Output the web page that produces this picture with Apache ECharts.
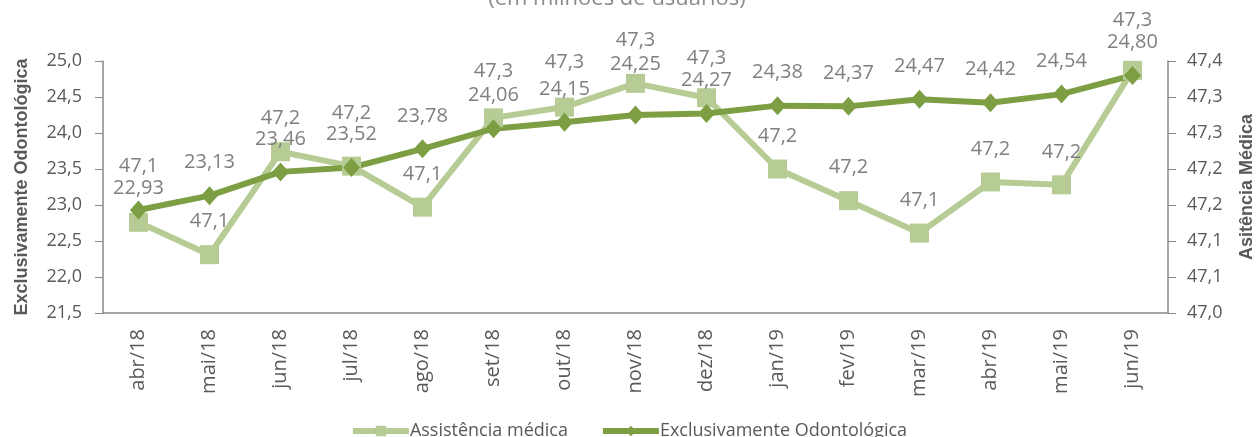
<!DOCTYPE html>
<html>
<head>
<meta charset="utf-8">
<script src="https://cdn.jsdelivr.net/npm/echarts@6/dist/echarts.min.js"></script>
<style>
  html, body { margin: 0; padding: 0; background: #fff; }
  #chart { width: 1257px; height: 437px; }
</style>
</head>
<body>
<div id="chart"></div>
<script>
// dados
var months = ['abr/18', 'mai/18', 'jun/18', 'jul/18', 'ago/18', 'set/18', 'out/18', 'nov/18',
  'dez/18', 'jan/19', 'fev/19', 'mar/19', 'abr/19', 'mai/19', 'jun/19']
// eixo direito
var assistenciaMedica = [47.126, 47.081, 47.224, 47.204, 47.147, 47.271, 47.286, 47.319,
  47.299, 47.200, 47.156, 47.111, 47.182, 47.178, 47.337]
// eixo esquerdo
var exclusOdonto = [22.93, 23.13, 23.46, 23.52, 23.78, 24.06, 24.15, 24.25,
  24.27, 24.38, 24.37, 24.47, 24.42, 24.54, 24.80]

var lightColor = '#b6cc94'
var darkColor = '#7d9e42'
var font = 'Open Sans'

// labels movidos manualmente (px acima do ponto)
var lightLift = { 0: 56, 3: 53, 5: 47, 6: 45, 7: 43, 8: 39, 14: 50 }
var darkLift = { 0: 22, 7: 51 }

function comma(v, d) {
  var p = Math.pow(10, d)
  return (Math.round(v * p + 1e-6) / p).toFixed(d).replace('.', ',')
}

function buildData(values, lifts) {
  return values.map(function (v, i) {
    return { value: v, label: { offset: [0, -(lifts[i] || 33)] } }
  })
}

var chart = echarts.init(document.getElementById('chart'))
chart.setOption({
  animation: false,
  title: {
    text: '(em milhões de usuários)',
    left: 612,
    top: -17,
    textAlign: 'center',
    textStyle: { fontFamily: font, fontSize: 22, fontWeight: 'normal', color: '#8c8c8c' }
  },
  legend: {
    top: 417,
    left: 'center',
    itemWidth: 56,
    itemHeight: 13,
    itemGap: 32,
    lineStyle: { width: 6 },
    textStyle: { fontFamily: font, fontSize: 18, color: '#595959', padding: [0, 0, 0, -4] },
    data: ['Assistência médica', 'Exclusivamente Odontológica']
  },
  grid: { left: 103, right: 89, top: 61, bottom: 124, outerBoundsMode: 'none' },
  xAxis: {
    type: 'category',
    data: months,
    boundaryGap: true,
    axisLine: { lineStyle: { color: '#898989', width: 1.5 } },
    axisTick: { length: 8, lineStyle: { color: '#898989' } },
    axisLabel: { rotate: 90, margin: 16, fontFamily: font, fontSize: 20, color: '#595959' }
  },
  yAxis: [
    {
      type: 'value',
      min: 21.5,
      max: 25,
      interval: 0.5,
      name: 'Exclusivamente Odontológica',
      nameLocation: 'middle',
      nameRotate: 90,
      nameGap: 72,
      nameTextStyle: { fontFamily: 'Liberation Sans', fontSize: 18, fontWeight: 'bold', color: '#595959' },
      axisLine: { show: true, lineStyle: { color: '#898989', width: 1.5 } },
      axisTick: { show: true, length: 8, lineStyle: { color: '#898989' } },
      splitLine: { show: false },
      axisLabel: {
        margin: 21, fontFamily: font, fontSize: 18, color: '#595959',
        formatter: function (v) { return comma(v, 1) }
      }
    },
    {
      type: 'value',
      min: 47.0,
      max: 47.35,
      interval: 0.05,
      name: 'Asitência Médica',
      nameLocation: 'middle',
      nameRotate: 90,
      nameGap: 70,
      nameTextStyle: { fontFamily: 'Liberation Sans', fontSize: 18, fontWeight: 'bold', color: '#595959' },
      axisLine: { show: true, lineStyle: { color: '#898989', width: 1.5 } },
      axisTick: { show: true, length: 8, lineStyle: { color: '#898989' } },
      splitLine: { show: false },
      axisLabel: {
        margin: 19, fontFamily: font, fontSize: 18, color: '#595959',
        formatter: function (v) { return comma(v, 1) }
      }
    }
  ],
  series: [
    {
      name: 'Assistência médica',
      type: 'line',
      yAxisIndex: 1,
      data: buildData(assistenciaMedica, lightLift),
      symbol: 'rect',
      symbolSize: 19,
      lineStyle: { color: lightColor, width: 6 },
      itemStyle: { color: lightColor },
      label: {
        show: true,
        position: 'inside',
        fontFamily: font,
        fontSize: 20,
        color: '#808080',
        formatter: function (p) { return comma(p.value, 1) }
      }
    },
    {
      name: 'Exclusivamente Odontológica',
      type: 'line',
      yAxisIndex: 0,
      data: buildData(exclusOdonto, darkLift),
      symbol: 'diamond',
      symbolSize: [17, 19],
      lineStyle: { color: darkColor, width: 6 },
      itemStyle: { color: darkColor },
      label: {
        show: true,
        position: 'inside',
        fontFamily: font,
        fontSize: 20,
        color: '#808080',
        formatter: function (p) { return comma(p.value, 2) }
      }
    }
  ]
})
</script>
</body>
</html>
